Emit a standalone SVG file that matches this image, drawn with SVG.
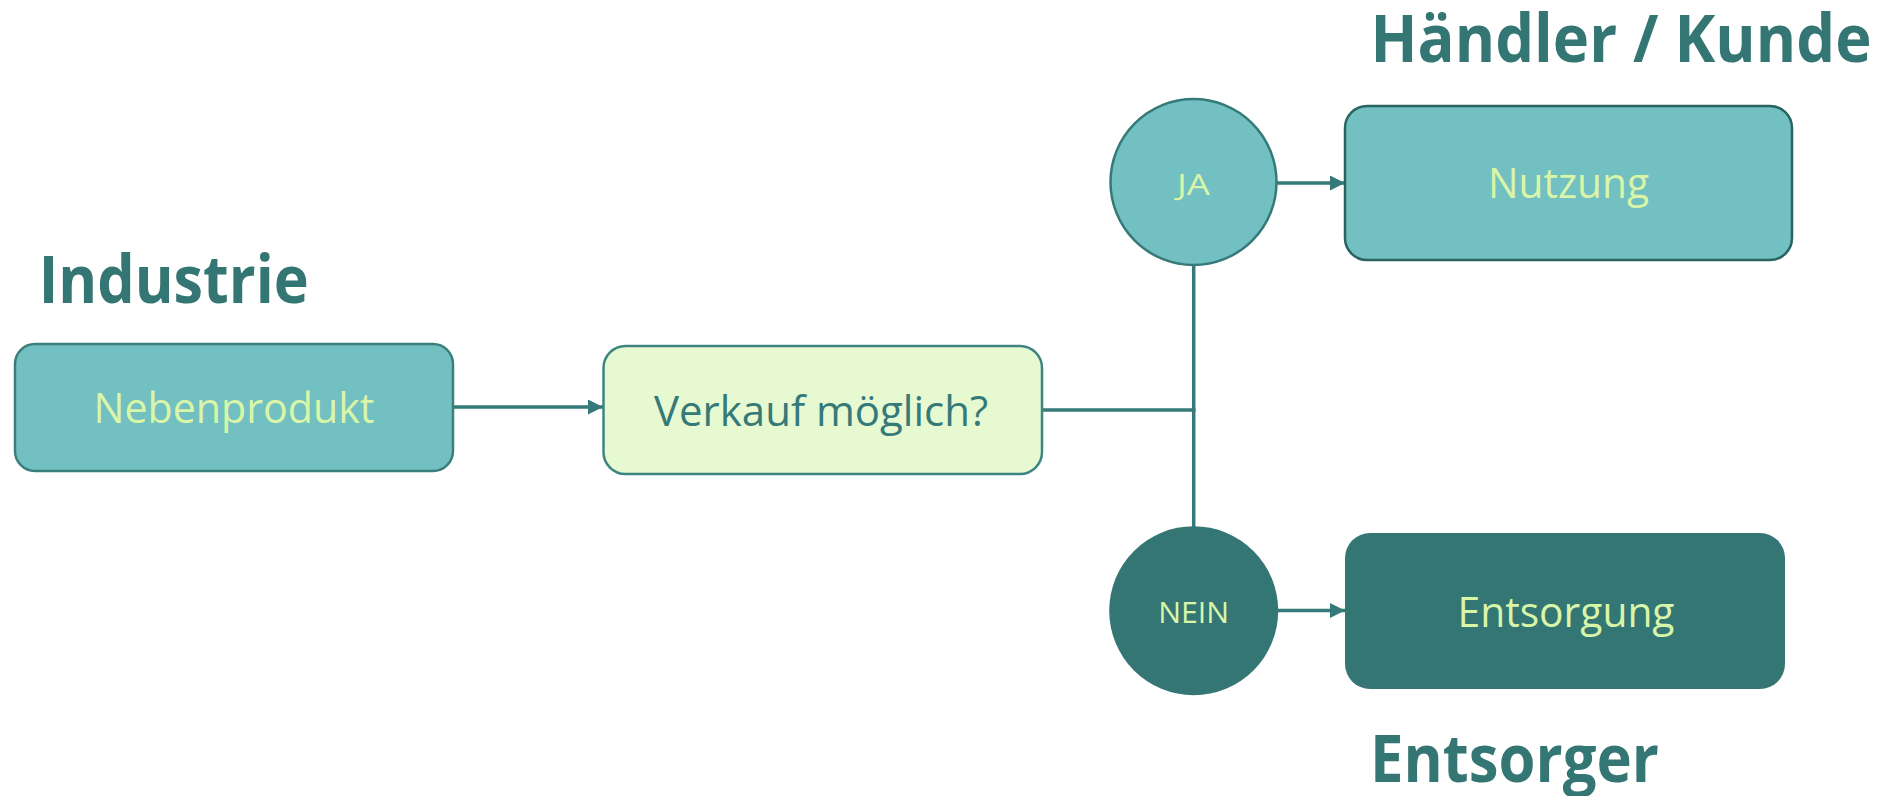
<svg xmlns="http://www.w3.org/2000/svg" width="1886" height="796" viewBox="0 0 1886 796">
  <style>
    .heading { font-family: "Open Sans", "Noto Sans", "Liberation Sans", sans-serif; font-weight: 700; font-size: 67px; fill: #347674; }
    .label { font-family: "Open Sans", "Noto Sans", "Liberation Sans", sans-serif; font-size: 42px; text-anchor: middle; }
    .small { font-family: "Open Sans", "Noto Sans", "Liberation Sans", sans-serif; font-size: 30px; text-anchor: middle; }
    .light { fill: #d9f5a8; }
    .dark { fill: #357a78; }
    .box-teal { fill: #72c0c1; stroke: #3a7f7c; stroke-width: 2.5; }
    .box-pale { fill: #e6f9d0; stroke: #3e8582; stroke-width: 2.5; }
    .box-deep { fill: #347674; }
    .link { fill: none; stroke: #357a78; stroke-width: 3.5; }
  </style>
  <defs>
    <marker id="arrow" markerUnits="userSpaceOnUse" markerWidth="15" markerHeight="15" refX="15" refY="7.5" orient="auto">
      <path d="M0,0 L15,7.5 L0,15 z" fill="#357a78"/>
    </marker>
  </defs>

  <rect width="1886" height="796" fill="#ffffff"/>

  <!-- section headings -->
  <g id="headings">
    <text class="heading" x="38.7" y="303" textLength="270" lengthAdjust="spacingAndGlyphs">Industrie</text>
    <text class="heading" x="1370.5" y="62" textLength="501" lengthAdjust="spacingAndGlyphs">Händler / Kunde</text>
    <text class="heading" x="1370" y="782" textLength="289" lengthAdjust="spacingAndGlyphs">Entsorger</text>
  </g>

  <!-- connectors -->
  <g id="connectors">
    <path class="link" d="M453.5,407 H603" marker-end="url(#arrow)"/>
    <path class="link" d="M1042,410 H1195.5"/>
    <path class="link" d="M1193.7,265 V527"/>
    <path class="link" d="M1277,183 H1345" marker-end="url(#arrow)"/>
    <path class="link" d="M1278,610.5 H1345" marker-end="url(#arrow)"/>
  </g>

  <g id="nebenprodukt">
    <rect class="box-teal" x="15" y="344" width="438" height="127" rx="20"/>
    <text class="label light" x="234" y="423" textLength="281" lengthAdjust="spacingAndGlyphs">Nebenprodukt</text>
  </g>

  <g id="verkauf">
    <rect class="box-pale" x="603.5" y="346" width="438.5" height="128" rx="22"/>
    <text class="label dark" x="821" y="426" textLength="334" lengthAdjust="spacingAndGlyphs">Verkauf möglich?</text>
  </g>

  <g id="ja">
    <circle cx="1193.5" cy="182" r="83" fill="#72c0c1" stroke="#357a78" stroke-width="2.5"/>
    <text class="small light" x="1193.5" y="195" textLength="33" lengthAdjust="spacingAndGlyphs">JA</text>
  </g>

  <g id="nein">
    <circle class="box-deep" cx="1193.7" cy="610.7" r="84.5"/>
    <text class="small light" x="1193.7" y="623" textLength="71" lengthAdjust="spacingAndGlyphs">NEIN</text>
  </g>

  <g id="nutzung">
    <rect x="1345" y="106" width="447" height="154" rx="22" fill="#72c0c1" stroke="#2a6461" stroke-width="2.5"/>
    <text class="label light" x="1568.5" y="198" textLength="161" lengthAdjust="spacingAndGlyphs">Nutzung</text>
  </g>

  <g id="entsorgung">
    <rect class="box-deep" x="1345" y="533" width="440" height="156" rx="25"/>
    <text class="label light" x="1566" y="627" textLength="217" lengthAdjust="spacingAndGlyphs">Entsorgung</text>
  </g>
</svg>
